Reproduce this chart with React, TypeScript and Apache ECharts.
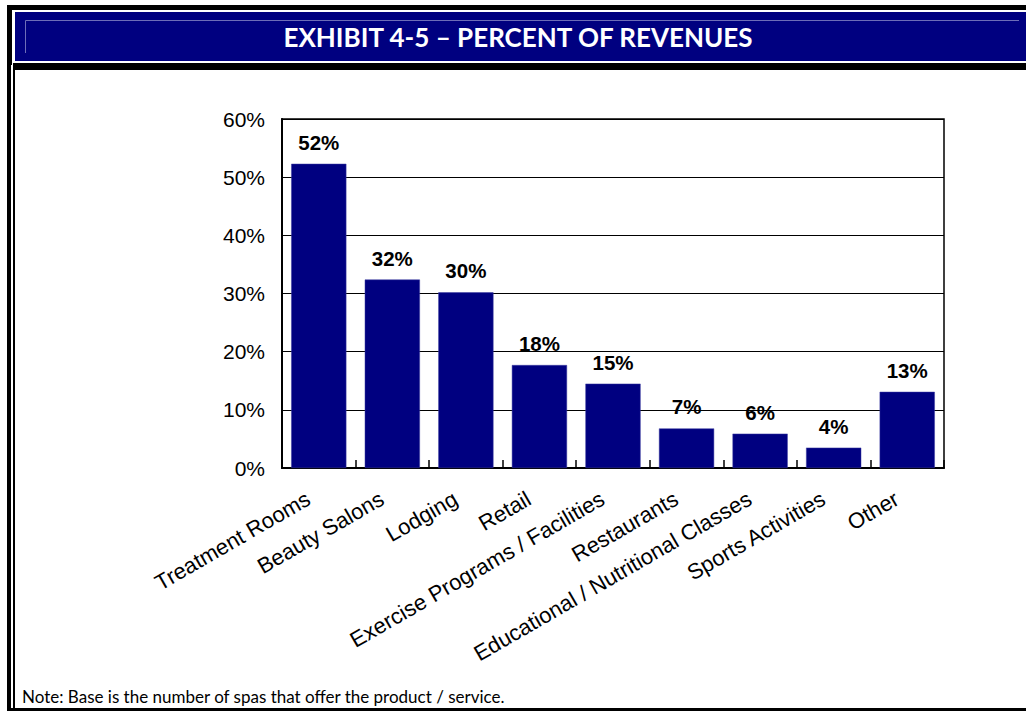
import React, { useEffect, useRef } from "react";
import * as echarts from "echarts";

const categories = [
  "Treatment Rooms",
  "Beauty Salons",
  "Lodging",
  "Retail",
  "Exercise Programs / Facilities",
  "Restaurants",
  "Educational / Nutritional Classes",
  "Sports Activities",
  "Other",
];
const percentValues = [52.3, 32.4, 30.2, 17.7, 14.5, 6.8, 5.9, 3.5, 13.1];
const percentLabels = ["52%", "32%", "30%", "18%", "15%", "7%", "6%", "4%", "13%"];
const yTicks = [0, 10, 20, 30, 40, 50, 60];
const titleText = "EXHIBIT 4-5 \u2013 PERCENT OF REVENUES";
const noteText = "Note: Base is the number of spas that offer the product / service.";

const NAVY = "#000080";

export default function App() {
  const ref = useRef<HTMLDivElement>(null);
  useEffect(() => {
    if (!ref.current) return;
    const chart = echarts.init(ref.current, undefined, { renderer: "svg" });
    chart.setOption({
      animation: false,
      backgroundColor: "#ffffff",
      textStyle: { fontFamily: "Liberation Sans, Arial, sans-serif" },
      grid: {
        left: 282,
        top: 119,
        right: 82,
        bottom: 245,
        show: true,
        borderColor: "#000",
        borderWidth: 1.5,
        containLabel: false,
      },
      xAxis: {
        type: "category",
        data: categories,
        axisLine: { show: true, lineStyle: { color: "#000", width: 2 } },
        axisTick: { show: true, inside: true, length: 8, lineStyle: { color: "#000", width: 1.5 } },
        axisLabel: {
          rotate: 30,
          interval: 0,
          margin: 23,
          padding: [0, 12, 0, 0],
          color: "#000",
          fontSize: 22,
          fontFamily: "Liberation Sans, Arial, sans-serif",
        },
      },
      yAxis: {
        type: "value",
        min: yTicks[0],
        max: yTicks[yTicks.length - 1],
        interval: 10,
        axisLine: { show: true, lineStyle: { color: "#000", width: 2 } },
        axisTick: { show: false },
        splitLine: { show: true, lineStyle: { color: "#000", width: 1 } },
        axisLabel: {
          formatter: "{value}%",
          margin: 17,
          color: "#000",
          fontSize: 21,
          fontFamily: "Liberation Sans, Arial, sans-serif",
        },
      },
      series: [
        {
          type: "bar",
          data: percentValues,
          barCategoryGap: "25%",
          itemStyle: { color: NAVY, borderColor: "#3a3aa0", borderWidth: 0.5 },
          label: {
            show: true,
            position: "top",
            distance: 11,
            color: "#000",
            fontWeight: "bold",
            fontSize: 20.5,
            fontFamily: "Liberation Sans, Arial, sans-serif",
            formatter: (p: any) => percentLabels[p.dataIndex],
          },
        },
      ],
      graphic: [
        { type: "rect", shape: { x: 7, y: 5, width: 1019, height: 5 }, style: { fill: "#000" } },
        { type: "rect", shape: { x: 7, y: 5, width: 5, height: 60 }, style: { fill: "#000" } },
        { type: "rect", shape: { x: 15, y: 12, width: 1011, height: 49 }, style: { fill: NAVY } },
        {
          type: "polyline",
          shape: { points: [[25.5, 53], [25.5, 20.5], [1019, 20.5]] },
          style: { stroke: "#6d6db8", lineWidth: 1, fill: "none" },
        },
        {
          type: "text",
          x: 518,
          y: 37,
          style: {
            text: titleText,
            fill: "#ffffff",
            font: "bold 26px Lato, 'Open Sans', sans-serif",
            textAlign: "center",
            textVerticalAlign: "middle",
          },
        },
        { type: "rect", shape: { x: 13, y: 63, width: 1013, height: 7 }, style: { fill: "#000" } },
        { type: "rect", shape: { x: 7, y: 63, width: 4, height: 648 }, style: { fill: "#000" } },
        { type: "rect", shape: { x: 13, y: 63, width: 2, height: 648 }, style: { fill: "#000" } },
        { type: "rect", shape: { x: 7, y: 708, width: 1019, height: 3 }, style: { fill: "#000" } },
        {
          type: "text",
          x: 22,
          y: 696,
          style: {
            text: noteText,
            fill: "#000",
            font: "17px Lato, 'Open Sans', sans-serif",
            textAlign: "left",
            textVerticalAlign: "middle",
          },
        },
      ],
    });
    return () => chart.dispose();
  }, []);
  return (
    <div
      ref={ref}
      style={{ position: "fixed", left: 0, top: 0, width: 1026, height: 713 }}
    />
  );
}
